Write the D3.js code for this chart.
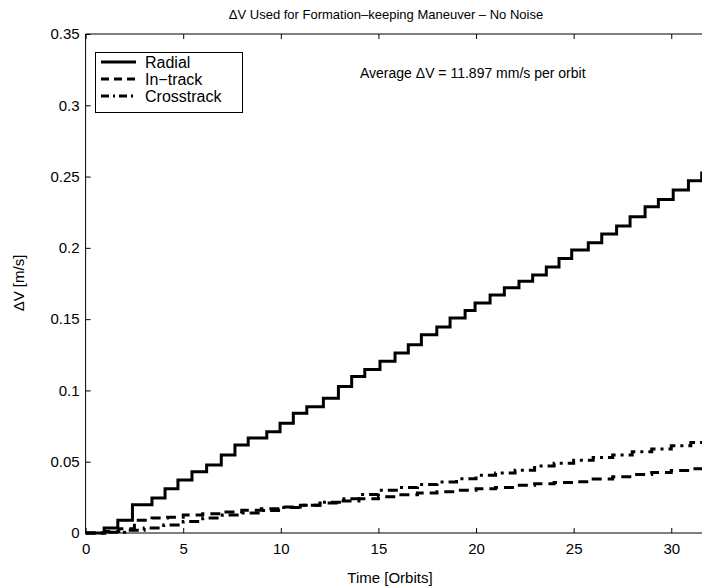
<!DOCTYPE html>
<html><head><meta charset="utf-8">
<script src="https://cdn.jsdelivr.net/npm/d3@7/dist/d3.min.js"></script>
<style>
body{margin:0;background:#fff;}
svg{display:block;font-family:"Liberation Sans",Arial,Helvetica,sans-serif;}
</style></head>
<body>
<svg id="chart" width="702" height="588"></svg>
<script>
// ---- data ----
const radialT = [0,0.95,1.65,2.4,3.4,4.07,4.73,5.45,6.2,6.95,7.65,8.33,9.28,9.96,10.64,11.33,12.18,12.95,13.63,14.3,15.08,15.85,16.53,17.2,17.99,18.67,19.44,19.95,20.72,21.45,22.2,22.9,23.6,24.25,24.9,25.75,26.44,27.2,27.89,28.66,29.34,30.1,30.88,31.56,32];
const radialV = [0,0.0035,0.009,0.0198,0.0245,0.031,0.0372,0.043,0.0477,0.0547,0.0617,0.0666,0.071,0.077,0.084,0.0886,0.0945,0.1027,0.1097,0.1146,0.1204,0.1262,0.132,0.139,0.1445,0.1508,0.156,0.1613,0.167,0.172,0.1765,0.181,0.1865,0.1926,0.1985,0.2036,0.2097,0.2153,0.2218,0.2288,0.234,0.2405,0.247,0.2525,0.2525];

const inTrackT = [0,1.0,1.7,2.5,3.4,4.2,5.0,6.0,7.0,8.0,9.0,10.0,11.0,12.0,13.0,14.0,15.0,16.0,17.0,18.0,19.0,20.0,21.0,22.0,23.0,24.0,25.0,26.0,27.0,28.0,29.0,30.0,31.0,32];
const inTrackV = [0,0.001,0.003,0.009,0.0105,0.011,0.0126,0.0135,0.0148,0.016,0.017,0.0182,0.0195,0.021,0.0225,0.024,0.0255,0.0268,0.028,0.029,0.030,0.031,0.032,0.0335,0.0345,0.0355,0.036,0.0378,0.0395,0.041,0.0425,0.0438,0.045,0.0458];

const crossT = [0,1.0,2.0,3.0,4.0,5.0,6.0,7.0,8.0,9.0,10.0,11.0,12.0,13.0,14.0,15.0,16.0,17.0,18.0,19.0,20.0,21.0,22.0,23.0,24.0,25.0,26.0,27.0,28.0,29.0,30.0,31.0,32];
const crossV = [0,0.0005,0.002,0.0035,0.0056,0.008,0.0105,0.0126,0.014,0.0158,0.0178,0.0195,0.0215,0.024,0.027,0.030,0.032,0.034,0.0358,0.038,0.0405,0.042,0.044,0.047,0.049,0.051,0.053,0.0547,0.057,0.059,0.0612,0.0635,0.066];

const xTicks = [0,5,10,15,20,25,30];
const yTicks = [0,0.05,0.1,0.15,0.2,0.25,0.3,0.35];
const legendLabels = ["Radial","In\u2212track","Crosstrack"];
const titleText = "\u0394V Used for Formation\u2013keeping Maneuver \u2013 No Noise";
const noteText = "Average \u0394V = 11.897 mm/s per orbit";

// ---- drawing ----
const svg = d3.select("#chart");
const x = d3.scaleLinear().domain([0,32]).range([85.6,710.3]);
const y = d3.scaleLinear().domain([0,0.35]).range([533,34]);

const g = svg.append("g");

// axes box lines
g.append("line").attr("x1",x(0)).attr("x2",x(32)).attr("y1",y(0)).attr("y2",y(0)).attr("stroke","#000").attr("stroke-width",1);
g.append("line").attr("x1",x(0)).attr("x2",x(32)).attr("y1",y(0.35)).attr("y2",y(0.35)).attr("stroke","#000").attr("stroke-width",1);
g.append("line").attr("x1",x(0)).attr("x2",x(0)).attr("y1",y(0)).attr("y2",y(0.35)).attr("stroke","#000").attr("stroke-width",1);

// bottom axis: inward ticks
const xb = d3.axisBottom(x).tickValues(xTicks).tickSize(-5).tickPadding(10).tickFormat(d3.format("d"));
const xa = g.append("g").attr("transform",`translate(0,${y(0)})`).call(xb);
xa.select(".domain").remove();
xa.selectAll("text").attr("font-size",15).attr("fill","#000").attr("font-family","Liberation Sans, Arial, sans-serif");
const xt = d3.axisTop(x).tickValues(xTicks).tickSize(-5).tickFormat("");
const xta = g.append("g").attr("transform",`translate(0,${y(0.35)})`).call(xt);
xta.select(".domain").remove();

const yl = d3.axisLeft(y).tickValues(yTicks).tickSize(-5).tickPadding(6).tickFormat(d=>d===0?"0":d3.format("")(+d.toFixed(2)));
const ya = g.append("g").attr("transform",`translate(${x(0)},0)`).call(yl);
ya.select(".domain").remove();
ya.selectAll("text").attr("font-size",15).attr("fill","#000").attr("font-family","Liberation Sans, Arial, sans-serif");

// series
const mk = (T,V)=>T.map((t,i)=>[t,V[i]]);
const line = d3.line().x(d=>x(d[0])).y(d=>y(d[1])).curve(d3.curveStepAfter);
const series = [
  {data:mk(radialT,radialV), dash:null, w:3},
  {data:mk(inTrackT,inTrackV), dash:"10,6", w:3},
  {data:mk(crossT,crossV), dash:"10,5,3,5", w:3}
];
series.forEach(s=>{
  g.append("path").attr("d",line(s.data)).attr("fill","none").attr("stroke","#000")
   .attr("stroke-width",s.w).attr("stroke-dasharray",s.dash).attr("stroke-linejoin","miter");
});

// legend
const lg = svg.append("g");
lg.append("rect").attr("x",95.5).attr("y",52.5).attr("width",147).attr("height",60).attr("fill","#fff").attr("stroke","#000").attr("stroke-width",1);
const legDash = [null,"8,5","8,4,2,4"];
series.forEach((s,i)=>{
  const yy = 62 + i*17;
  lg.append("line").attr("x1",101).attr("x2",136).attr("y1",yy).attr("y2",yy).attr("stroke","#000").attr("stroke-width",3).attr("stroke-dasharray",legDash[i]);
  lg.append("text").attr("x",145).attr("y",yy+5.5).attr("font-size",16).text(legendLabels[i]);
});

// annotation
svg.append("text").attr("x",360).attr("y",78).attr("font-size",14).text(noteText);

// title and labels
svg.append("text").attr("x",386).attr("y",19).attr("text-anchor","middle").attr("font-size",13).text(titleText);
svg.append("text").attr("x",390).attr("y",583).attr("text-anchor","middle").attr("font-size",15).text("Time [Orbits]");
svg.append("text").attr("transform","translate(24,283) rotate(-90)").attr("text-anchor","middle").attr("font-size",15).text("\u0394V [m/s]");
</script>
</body></html>
